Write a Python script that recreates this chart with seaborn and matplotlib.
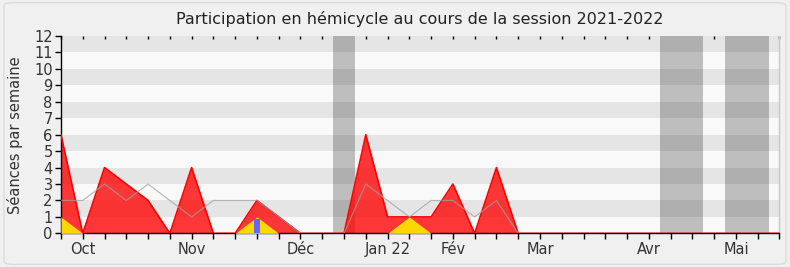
import matplotlib
matplotlib.use("Agg")
import matplotlib.pyplot as plt
from matplotlib.patches import FancyBboxPatch
import seaborn as sns
import numpy as np
import pandas as pd

# ---- data ----
weeks = list(range(34))
presence = [6, 0, 4, 3, 2, 0, 4, 0, 0, 2, 1, 0, 0, 0, 6, 1, 1, 1, 3, 0, 4, 0,
            0, 0, 0, 0, 0, 0, 0, 0, 0, 0, 0, 0]
interventions = [1, 0, 0, 0, 0, 0, 0, 0, 0, 1, 0, 0, 0, 0, 0, 0, 1, 0,
                 0, 0, 0, 0, 0, 0, 0, 0, 0, 0, 0, 0, 0, 0, 0, 0]
median_line = [2, 2, 3, 2, 3, 2, 1, 2, 2, 2, 1, 0, 0, 0, 3, 2, 1, 2, 2, 1, 2, 0,
               0, 0, 0, 0, 0, 0, 0, 0, 0, 0, 0, 0]
question_weeks = [9]
question_values = [0.9]
vacation_start = [12.5, 27.5, 30.5]
vacation_end = [13.5, 29.5, 32.5]
month_weeks = [1, 6, 11, 15, 18, 22, 27, 31]
month_labels = ["Oct", "Nov", "Déc", "Jan 22", "Fév", "Mar", "Avr", "Mai"]
y_max = 12

df = pd.DataFrame({"week": weeks, "presence": presence,
                   "interventions": interventions, "median": median_line})

sns.set_style("white")
plt.rcParams['font.family'] = ['DejaVu Sans']

fig = plt.figure(figsize=(7.9, 2.67), dpi=100, facecolor="#f0f0f0")
border = FancyBboxPatch((0.005, 0.01), 0.99, 0.98, boxstyle="round,pad=0,rounding_size=0.012",
                        transform=fig.transFigure, facecolor="#f0f0f0",
                        edgecolor="#dcdcdc", linewidth=1, zorder=-10)
fig.patches.append(border)

ax = fig.add_axes([0.0772, 0.126, 0.9095, 0.739])
ax.set_zorder(1)
ax.set_facecolor("#f9f9f9")

# vacation bands
for s, e in zip(vacation_start, vacation_end):
    ax.axvspan(s, e, color="#bebebe", zorder=0.5, linewidth=0)
# horizontal stripes
for k in range(1, y_max, 2):
    ax.axhspan(k, k + 1, color="black", alpha=0.08, zorder=0.6, linewidth=0)

# presence area
ax.fill_between(df["week"], 0, df["presence"], color="#ff0000", alpha=0.78,
                linewidth=0, zorder=2)
sns.lineplot(data=df, x="week", y="presence", color="#ff0000", linewidth=1.2,
             ax=ax, zorder=3)
# interventions area
ax.fill_between(df["week"], 0, df["interventions"], color="#ffd700", alpha=1.0,
                linewidth=0, zorder=3.5)
# median line
sns.lineplot(data=df, x="week", y="median", color="#a0a0a0", linewidth=0.9,
             alpha=0.7, ax=ax, zorder=4)
# questions bar
ax.bar(question_weeks, question_values, width=0.3, color="#6666ff", zorder=5,
       linewidth=0)

ax.set_xlim(0, 33)
ax.set_ylim(0, y_max)
ax.set_yticks(range(0, y_max + 1))
ax.set_xticks(weeks)
labels = [""] * len(weeks)
for w, l in zip(month_weeks, month_labels):
    labels[w] = l
ax.set_xticklabels(labels)
ax.tick_params(axis="both", direction="out", length=4, width=1, color="black",
               labelsize=10.5, labelcolor="#333333", pad=2, bottom=True, left=True)
ax.set_xlabel("")
ax.set_ylabel("Séances par semaine", fontsize=10.5, color="#333333", labelpad=8)
ax.set_title("Participation en hémicycle au cours de la session 2021-2022",
             fontsize=11.5, color="#222222", pad=9)

top = ax.secondary_xaxis("top")
top.set_xticks(weeks)
top.tick_params(direction="in", length=2, width=1, labeltop=False, color="black")
top.spines["top"].set_visible(False)

ax.spines["top"].set_visible(False)
ax.spines["right"].set_color("#c8c8c8")
ax.spines["left"].set_color("black")
ax.spines["bottom"].set_color("black")
for s in ax.spines.values():
    s.set_linewidth(1)

fig.savefig("out.png", dpi=100, facecolor=fig.get_facecolor())
